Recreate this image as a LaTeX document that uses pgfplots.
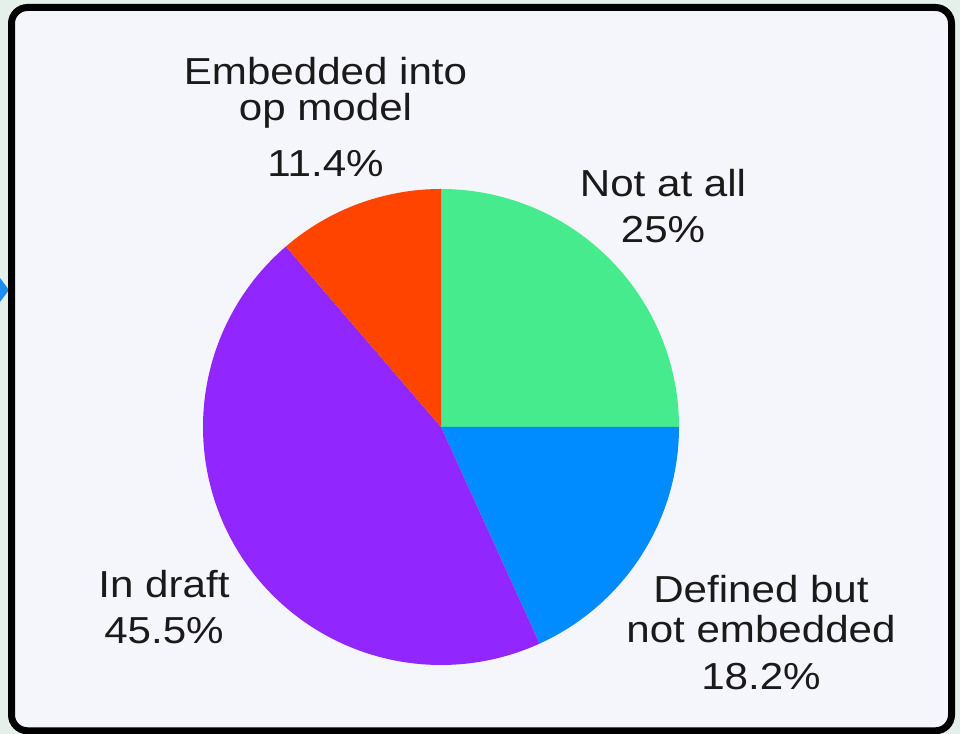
\documentclass[border=0pt]{standalone}
\usepackage{pgfplots}
\pgfplotsset{compat=1.18}
\usepackage{fontspec}
\setmainfont{Liberation Sans}[FakeStretch=1.12]
\definecolor{cgreen}{HTML}{45EB8C}
\definecolor{cblue}{HTML}{008BFF}
\definecolor{cpurple}{HTML}{9226FF}
\definecolor{corange}{HTML}{FF4400}
\definecolor{innerbg}{HTML}{F5F5FC}
\definecolor{outerbg}{HTML}{E6F0EA}
\definecolor{arrowblue}{HTML}{1E8CF0}
\definecolor{txt}{HTML}{1A1A1A}
\newcommand\lbl{\fontsize{18.8}{22}\selectfont\color{txt}}
\begin{document}
\begin{tikzpicture}[x=1pt,y=1pt]
\useasboundingbox (0,0) rectangle (480,367);
\fill[outerbg] (0,0) rectangle (480,367);
\fill[arrowblue] (0,228) -- (4.5,222) -- (0,216) -- cycle;
\draw[line width=3.5pt, fill=innerbg, rounded corners=8pt] (5.75,1.6) rectangle (475.75,363.25);
\begin{axis}[at={(220.5pt,153.5pt)}, anchor=center, x=119pt, y=119pt,
  xmin=-1, xmax=1, ymin=-1, ymax=1, hide axis, clip=false, scale only axis]
% Not at all 25%
\addplot[draw=none, fill=cgreen, domain=0:90, samples=80] ({cos(x)},{sin(x)}) -- (axis cs:0,0) -- cycle;
% Defined but not embedded 18.2%
\addplot[draw=none, fill=cblue, domain=-65.52:0, samples=80] ({cos(x)},{sin(x)}) -- (axis cs:0,0) -- cycle;
% In draft 45.5%
\addplot[draw=none, fill=cpurple, domain=-229.32:-65.52, samples=160] ({cos(x)},{sin(x)}) -- (axis cs:0,0) -- cycle;
% Embedded into op model 11.4%
\addplot[draw=none, fill=corange, domain=90:130.68, samples=60] ({cos(x)},{sin(x)}) -- (axis cs:0,0) -- cycle;

\node[anchor=base, font=\lbl] at (axis cs:-0.4853,1.4370) {Embedded into};
\node[anchor=base, font=\lbl] at (axis cs:-0.4853,1.2857) {op model};
\node[anchor=base, font=\lbl] at (axis cs:-0.4853,1.0504) {11.4\%};

\node[anchor=base, font=\lbl] at (axis cs:0.9328,0.9685) {Not at all};
\node[anchor=base, font=\lbl] at (axis cs:0.9328,0.7744) {25\%};

\node[anchor=base, font=\lbl] at (axis cs:1.3445,-0.7395) {Defined but};
\node[anchor=base, font=\lbl] at (axis cs:1.3445,-0.9034) {not embedded};
\node[anchor=base, font=\lbl] at (axis cs:1.3445,-1.1050) {18.2\%};

\node[anchor=base, font=\lbl] at (axis cs:-1.1639,-0.7172) {In draft};
\node[anchor=base, font=\lbl] at (axis cs:-1.1639,-0.9088) {45.5\%};
\end{axis}
\end{tikzpicture}
\end{document}
